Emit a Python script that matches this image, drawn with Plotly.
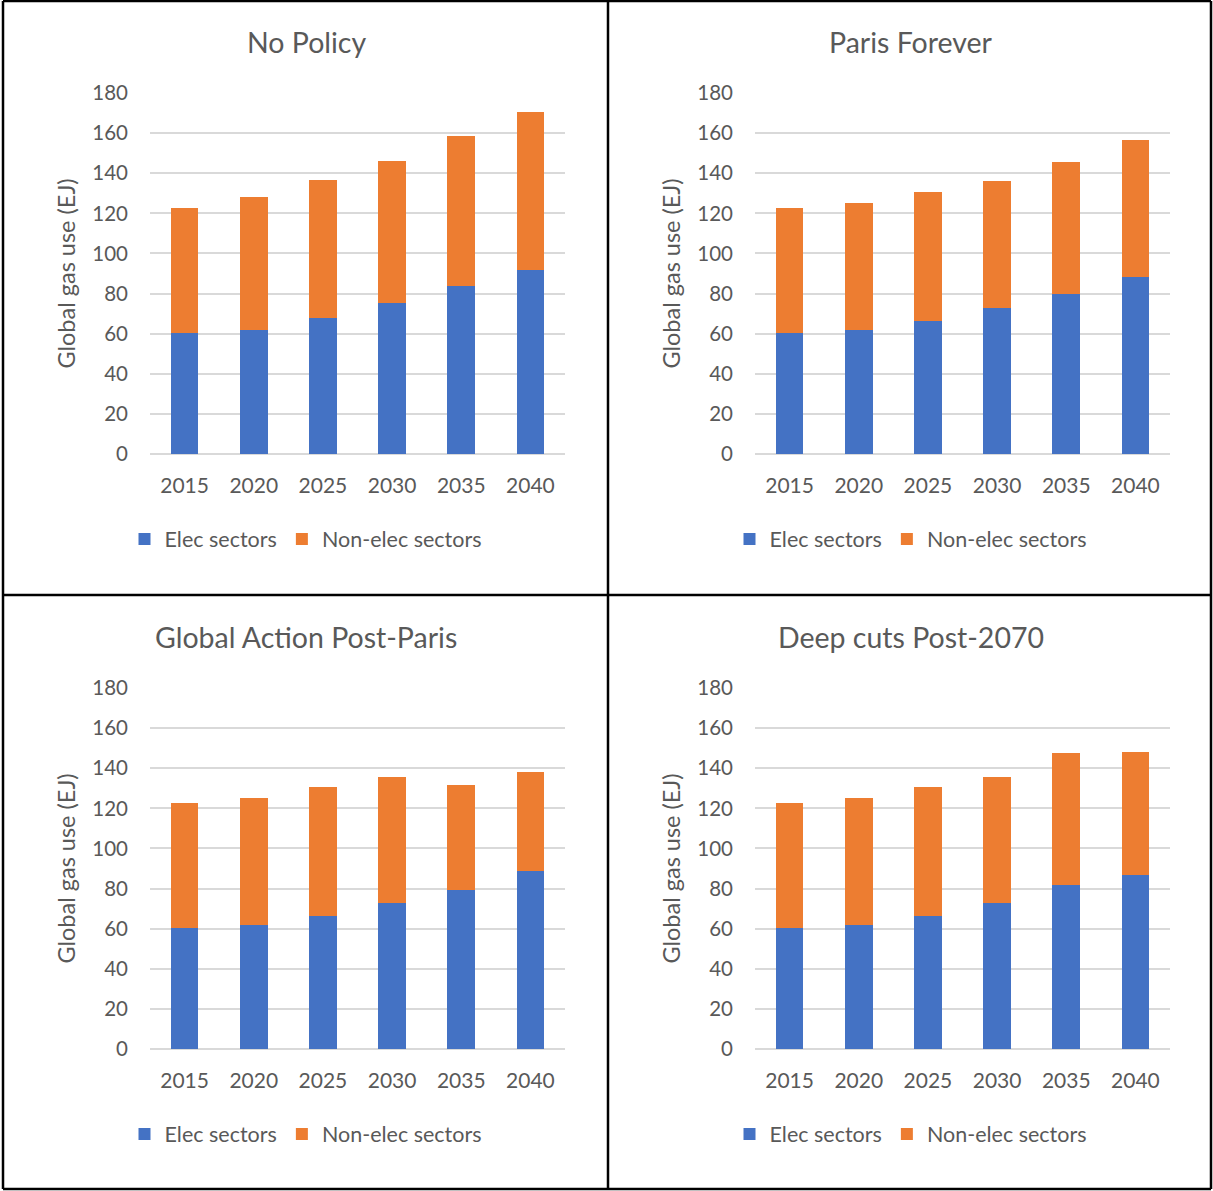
import plotly.graph_objects as go

# Scenario data: global gas use (EJ), split into electricity and non-electricity sectors
years = ["2015", "2020", "2025", "2030", "2035", "2040"]
scenarios = ["No Policy", "Paris Forever", "Global Action Post-Paris", "Deep cuts Post-2070"]

elec_no_policy = [60.3, 62.0, 67.8, 75.5, 83.8, 91.8]
total_no_policy = [122.8, 128.3, 136.7, 146.3, 158.7, 170.7]

elec_paris_forever = [60.3, 62.0, 66.3, 73.0, 80.0, 88.3]
total_paris_forever = [122.8, 125.3, 130.5, 136.0, 145.8, 156.8]

elec_global_action = [60.3, 61.7, 66.2, 73.0, 79.3, 89.0]
total_global_action = [122.8, 125.3, 130.5, 135.8, 131.8, 138.3]

elec_deep_cuts = [60.3, 61.7, 66.2, 73.0, 82.0, 87.0]
total_deep_cuts = [122.8, 125.3, 130.5, 135.8, 147.8, 148.2]

elec_series = [elec_no_policy, elec_paris_forever, elec_global_action, elec_deep_cuts]
total_series = [total_no_policy, total_paris_forever, total_global_action, total_deep_cuts]

y_ticks = [0, 20, 40, 60, 80, 100, 120, 140, 160, 180]

W, H = 1213, 1191
BLUE, ORANGE = "#4472C4", "#ED7D31"
TEXT = "#595959"
GRID = "#D9D9D9"
FONT = "Lato, Carlito, Calibri, sans-serif"


def px_x(v):
    return v / W


def px_y(v):
    return 1 - v / H


fig = go.Figure()
annotations = []
shapes = []

for i, name in enumerate(scenarios):
    col, row = i % 2, i // 2
    dx, dy = col * 605, row * 595
    ax = "" if i == 0 else str(i + 1)
    xa, ya = "x" + ax, "y" + ax
    leg = "legend" if i == 0 else "legend" + str(i + 1)

    elec = elec_series[i]
    non_elec = [round(t - e, 1) for t, e in zip(total_series[i], elec)]

    fig.add_trace(go.Bar(
        x=years, y=elec, name="Elec sectors", marker_color=BLUE,
        marker_line_width=0, xaxis=xa, yaxis=ya, legend=leg,
    ))
    fig.add_trace(go.Bar(
        x=years, y=non_elec, name="Non-elec sectors", marker_color=ORANGE,
        marker_line_width=0, xaxis=xa, yaxis=ya, legend=leg,
    ))

    fig.update_layout(**{
        "xaxis" + ax: dict(
            domain=[px_x(150 + dx), px_x(565 + dx)],
            anchor=ya, showline=False, showgrid=False, zeroline=False,
            ticks="", ticklabelstandoff=17,
            tickfont=dict(size=21, color=TEXT, family=FONT),
            fixedrange=True, automargin=False,
        ),
        "yaxis" + ax: dict(
            domain=[px_y(454 + dy), px_y(93 + dy)],
            anchor=xa, range=[0, 180], tickvals=y_ticks,
            showgrid=True, gridcolor=GRID, gridwidth=2,
            zeroline=True, zerolinecolor=GRID, zerolinewidth=2,
            showline=False, ticks="", ticklabelstandoff=21,
            tickfont=dict(size=20.5, color=TEXT, family=FONT),
            title=dict(text="Global gas use (EJ)", standoff=10,
                       font=dict(size=23.5, color=TEXT, family=FONT)),
            fixedrange=True, automargin=False,
        ),
        leg: dict(
            orientation="h", xanchor="center", yanchor="middle",
            x=px_x(306 + dx), y=px_y(539 + dy),
            xref="paper", yref="paper",
            font=dict(size=21.5, color=TEXT, family=FONT),
            bgcolor="rgba(0,0,0,0)", traceorder="normal",
            itemclick=False, itemdoubleclick=False,
        ),
    })

    annotations.append(dict(
        text=name, x=px_x(306 + dx), y=px_y(42 + dy),
        xref="paper", yref="paper", xanchor="center", yanchor="middle",
        showarrow=False, font=dict(size=28.5, color=TEXT, family=FONT),
    ))

# Table frame around the four panels
frame = [
    (3, 1, 1211, 1),
    (3, 1189, 1211, 1189),
    (3, 1, 3, 1189),
    (1211, 1, 1211, 1189),
    (608, 1, 608, 1189),
    (3, 595, 1211, 595),
]
for x0, y0, x1, y1 in frame:
    shapes.append(dict(
        type="line", xref="paper", yref="paper",
        x0=px_x(x0), y0=px_y(y0), x1=px_x(x1), y1=px_y(y1),
        line=dict(color="black", width=2.5),
    ))

fig.update_layout(
    width=W, height=H,
    margin=dict(l=0, r=0, t=0, b=0, autoexpand=False),
    barmode="stack", bargap=0.6,
    plot_bgcolor="white", paper_bgcolor="white",
    font=dict(family=FONT, color=TEXT),
    annotations=annotations, shapes=shapes,
    showlegend=True,
)

fig.write_html("out.html")
